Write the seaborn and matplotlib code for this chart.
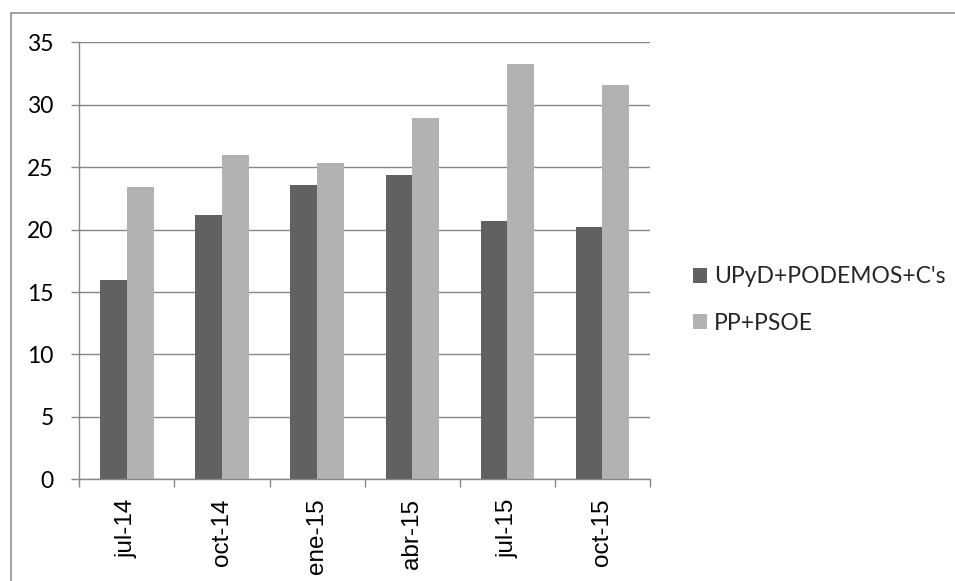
import pandas as pd
import seaborn as sns
import matplotlib.pyplot as plt
from matplotlib.font_manager import FontProperties
from matplotlib.lines import Line2D
from matplotlib.patches import Rectangle

# Survey periods and vote-share estimates (%)
periods = ["jul-14", "oct-14", "ene-15", "abr-15", "jul-15", "oct-15"]
nuevos_partidos = [16.0, 21.2, 23.6, 24.4, 20.7, 20.2]
bipartidismo = [23.4, 26.0, 25.3, 28.9, 33.3, 31.6]
series_names = ["UPyD+PODEMOS+C's", "PP+PSOE"]
series_colors = ["#616161", "#b2b2b2"]
y_ticks = [0, 5, 10, 15, 20, 25, 30, 35]

df = pd.DataFrame({
    "periodo": periods * 2,
    "valor": nuevos_partidos + bipartidismo,
    "serie": [series_names[0]] * len(periods) + [series_names[1]] * len(periods),
})

sns.set_theme(style="white")
plt.rcParams["font.family"] = ["Lato", "DejaVu Sans"]

GRAY = "#878787"
FS = 16.5
xlabel_font = FontProperties(family="Liberation Sans", size=17.5)

fig = plt.figure(figsize=(9.55, 5.81), dpi=100)
ax = fig.add_axes([0.0831, 0.175, 0.5975, 0.7522])

sns.barplot(
    data=df, x="periodo", y="valor", hue="serie",
    order=periods, hue_order=series_names, palette=series_colors,
    width=0.56, gap=0, saturation=1, errorbar=None,
    edgecolor="none", linewidth=0, ax=ax,
)

if ax.get_legend() is not None:
    ax.get_legend().remove()

ax.set_xlim(-0.5, len(periods) - 0.5)
ax.set_ylim(0, 35)
ax.set_xlabel("")
ax.set_ylabel("")

ax.tick_params(axis="x", which="major", length=0, pad=14, colors="black")
ax.tick_params(axis="x", which="minor", length=5.5, width=1.0, color=GRAY,
               direction="out", bottom=True)
ax.tick_params(axis="y", which="major", length=5.5, width=1.0, color=GRAY,
               direction="out", left=True, pad=13, labelcolor="black")

ax.set_yticks(y_ticks)
ax.set_yticklabels([str(v) for v in y_ticks], fontsize=FS)

# Category labels centred, tick marks on category boundaries
ax.set_xticks(range(len(periods)))
ax.set_xticklabels(periods, rotation=90, fontproperties=xlabel_font)
ax.set_xticks([i - 0.5 for i in range(len(periods) + 1)], minor=True)

ax.yaxis.grid(True, color=GRAY, linewidth=1.0)
ax.xaxis.grid(False)
ax.set_axisbelow(True)

for side in ("top", "right"):
    ax.spines[side].set_visible(False)
for side in ("left", "bottom"):
    ax.spines[side].set_color(GRAY)
    ax.spines[side].set_linewidth(1.0)

# Legend to the right of the plot area
legend_handles = [Rectangle((0, 0), 1, 1, facecolor=c, edgecolor="none")
                  for c in series_colors]
fig.legend(legend_handles, series_names, loc="center left",
           bbox_to_anchor=(0.7257, 0.4836), frameon=False, fontsize=FS,
           handlelength=0.6, handleheight=0.65, handletextpad=0.3,
           labelspacing=1.1, borderpad=0, borderaxespad=0)

# Chart frame
x0 = 10.7 / 955
y0 = 1 - 12.7 / 581
fig.add_artist(Line2D([x0, x0], [0, y0], transform=fig.transFigure,
                      color=GRAY, linewidth=1.1))
fig.add_artist(Line2D([x0, 1], [y0, y0], transform=fig.transFigure,
                      color=GRAY, linewidth=1.1))

fig.savefig("out.png", dpi=100)
